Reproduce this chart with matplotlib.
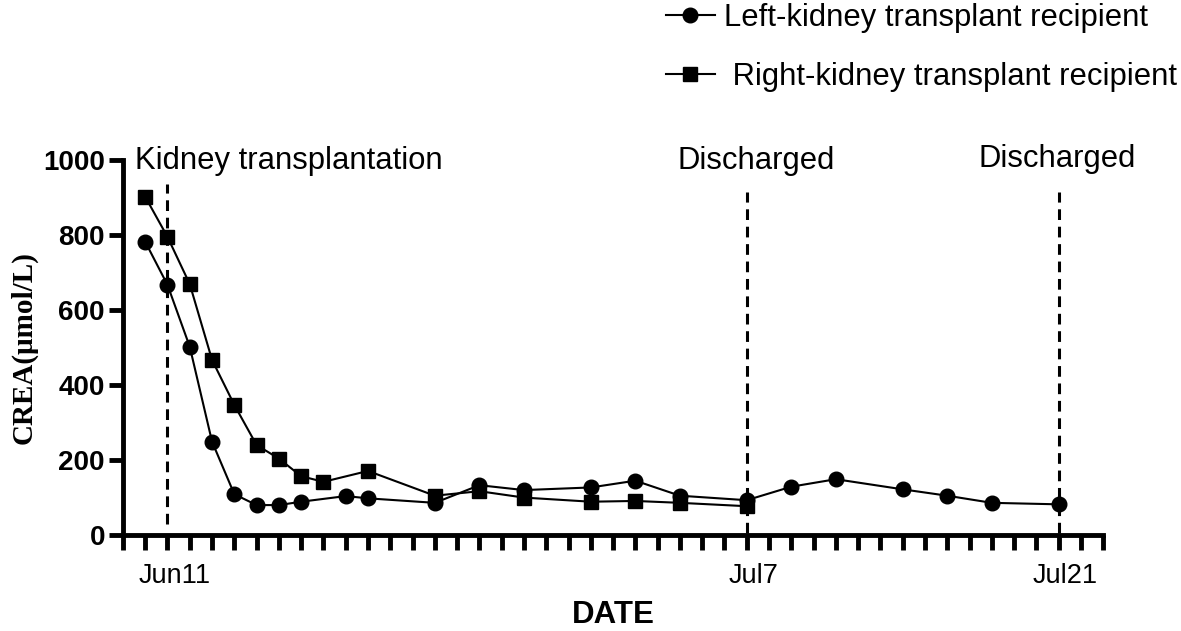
import matplotlib
matplotlib.use("Agg")
import matplotlib.pyplot as plt
import matplotlib.transforms as mtransforms
import numpy as np

# Day offsets from Jun 9
left_days = [1, 2, 3, 4, 5, 6, 7, 8, 10, 11, 14, 16, 18, 21, 23, 25, 28, 30, 32, 35, 37, 39, 42]
left_crea = [782, 667, 502, 249, 109, 80, 80, 89, 104, 98, 86, 133, 120, 127, 145, 105, 93, 129, 149, 122, 105, 86, 82]
right_days = [1, 2, 3, 4, 5, 6, 7, 8, 9, 11, 14, 16, 18, 21, 23, 25, 28]
right_crea = [902, 795, 669, 467, 347, 240, 204, 157, 142, 171, 105, 117, 100, 89, 91, 86, 77]

tick_days = [2, 28, 42]
tick_labels = ["Jun11", "Jul7", "Jul21"]
event_days = [2, 28, 42]
event_texts = ["Kidney transplantation", "Discharged", "Discharged"]
y_ticks = [0, 200, 400, 600, 800, 1000]

sans = ["Liberation Sans", "DejaVu Sans"]
serif = ["Liberation Serif", "DejaVu Serif"]

fig = plt.figure(figsize=(11.81, 6.31), dpi=100)
ax = fig.add_axes([0.1041, 0.152, 0.8300, 0.5944])

ax.plot(left_days, left_crea, color="black", lw=1.5, marker="o", ms=10.5,
        label="Left-kidney transplant recipient", clip_on=False, zorder=3)
ax.plot(right_days, right_crea, color="black", lw=1.5, marker="s", ms=10.5,
        label=" Right-kidney transplant recipient", clip_on=False, zorder=3)

# event vertical dashed lines
ax.plot([event_days[0]] * 2, [30, 935], color="black", lw=2.2, ls=(0, (3.5, 2.2)), zorder=2)
for d in event_days[1:]:
    ax.plot([d] * 2, [5, 915], color="black", lw=2.2, ls=(0, (3.5, 2.2)), zorder=2)

text_pos = [(0.55, 975), (24.9, 975), (38.4, 982)]
for (tx, ty), t in zip(text_pos, event_texts):
    ax.text(tx, ty, t, fontsize=22.3, family=sans, ha="left", va="baseline")

ax.set_xlim(0, 44)
ax.set_ylim(0, 1000)
major = np.arange(0, 45, 1)
ax.set_xticks(major)
lab_map = dict(zip(tick_days, tick_labels))
ax.set_xticklabels([lab_map.get(int(d), "") for d in major], fontsize=19.5, family=sans)
ax.tick_params(axis="x", which="major", length=11, width=3.5, direction="out", pad=9)
ax.set_yticks(y_ticks)
ax.set_yticklabels([str(v) for v in y_ticks], fontsize=20, fontweight="bold", family=sans)
ax.tick_params(axis="y", length=10, width=3.5, direction="out", pad=3)

shift = mtransforms.ScaledTranslation(7 / 100, 0, fig.dpi_scale_trans)
for tick in ax.xaxis.get_major_ticks():
    tick.label1.set_transform(tick.label1.get_transform() + shift)

for s in ["top", "right"]:
    ax.spines[s].set_visible(False)
for s in ["left", "bottom"]:
    ax.spines[s].set_linewidth(3.5)

ax.set_xlabel("DATE", fontsize=22.5, fontweight="bold", family=sans, labelpad=8)
ax.set_ylabel("CREA(μmol/L)", fontsize=21, fontweight="bold", family=serif, labelpad=4)

leg = fig.legend(loc="upper left", bbox_to_anchor=(0.54, 1.04), frameon=False,
                 prop={"family": sans, "size": 22.3}, handlelength=1.6,
                 labelspacing=0.95, handletextpad=0.3)

fig.savefig("out.png", dpi=100)
